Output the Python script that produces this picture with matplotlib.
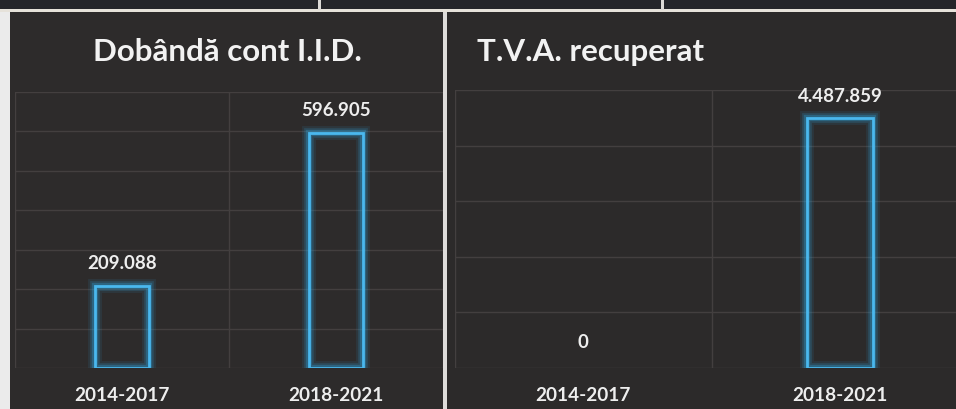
import matplotlib
matplotlib.use("Agg")
import matplotlib.pyplot as plt
from matplotlib.patches import Rectangle
from matplotlib.ticker import MultipleLocator

categories = ["2014-2017", "2018-2021"]
dobanda_values = [209088, 596905]
tva_values = [0, 4487859]
dobanda_labels = ["209.088", "596.905"]
tva_labels = ["0", "4.487.859"]
titles = ["Dobândă cont I.I.D.", "T.V.A. recuperat"]

W, H = 956, 409
fig = plt.figure(figsize=(W / 100, H / 100), dpi=100)
fig.patch.set_facecolor("#2c2a2a")

def px_rect(x0, y0, x1, y1, color, z=-5):
    fig.patches.append(Rectangle((x0 / W, 1 - y1 / H), (x1 - x0) / W, (y1 - y0) / H,
                                 transform=fig.transFigure, facecolor=color,
                                 edgecolor="none", zorder=z))

# background layout
px_rect(0, 0, W, 9, "#25262a")
px_rect(0, 9, W, 12, "#e6e2da")
px_rect(318, 0, 321, 10, "#dcdad6")
px_rect(661, 0, 664, 10, "#dcdad6")
px_rect(0, 12, 10, H, "#ebebeb")
px_rect(10, 12, 443, H, "#2d2b2b")
px_rect(443, 12, 447, H, "#dedcda")
px_rect(447, 12, W, H, "#2c2a2a")

BAR = "#2fa3dc"
FONT = "Lato"

def make_panel(x0, x1, ytop, ybot, values, labels, ymax, step, title, title_xy, title_ha):
    ax = fig.add_axes([x0 / W, 1 - ybot / H, (x1 - x0) / W, (ybot - ytop) / H])
    ax.set_facecolor("none")
    ax.set_xlim(-0.5, 1.5)
    ax.set_ylim(0, ymax)
    ax.yaxis.set_major_locator(MultipleLocator(step))
    ax.set_xticks([-0.5, 0.5, 1.5])
    ax.grid(True, color="#433f3f", linewidth=1.0)
    ax.set_axisbelow(True)
    ax.tick_params(length=0, labelbottom=False, labelleft=False)
    for s in ax.spines.values():
        s.set_visible(False)
    xs = list(range(len(values)))
    # glow layers (zero-height bars get no outline)
    for lw, a in [(10, 0.10), (7, 0.18), (4.5, 0.3)]:
        ax.bar(xs, values, width=0.255, fill=False, edgecolor=BAR,
               linewidth=[lw if v > 0 else 0 for v in values], alpha=a, zorder=3)
    ax.bar(xs, values, width=0.255, fill=False, edgecolor="#4ab8ee",
           linewidth=[2.0 if v > 0 else 0 for v in values], zorder=4)
    for x, v, lab in zip(xs, values, labels):
        ax.annotate(lab, (x, v), xytext=(0, 10 if v > 0 else 12), textcoords="offset points",
                    ha="center", va="bottom", color="#eeeeee", fontsize=13.5,
                    fontweight="bold", family=FONT, annotation_clip=False)
        ax.annotate(categories[x], (x, 0), xytext=(0, -20), textcoords="offset points",
                    ha="center", va="center", color="#eeeeee", fontsize=13.7,
                    fontweight="bold", family=FONT, annotation_clip=False)
    fig.text(title_xy[0] / W, 1 - title_xy[1] / H, title, ha=title_ha, va="center",
             color="#f2f2f2", fontsize=22.5, fontweight="bold", family=FONT)
    return ax

make_panel(15, 443, 92, 368, dobanda_values, dobanda_labels, 700000, 100000,
           titles[0], (227, 52), "center")
make_panel(454.5, 968.5, 90, 368, tva_values, tva_labels, 5000000, 1000000,
           titles[1], (477, 52), "left")

fig.savefig("out.png", dpi=100, facecolor=fig.get_facecolor())
